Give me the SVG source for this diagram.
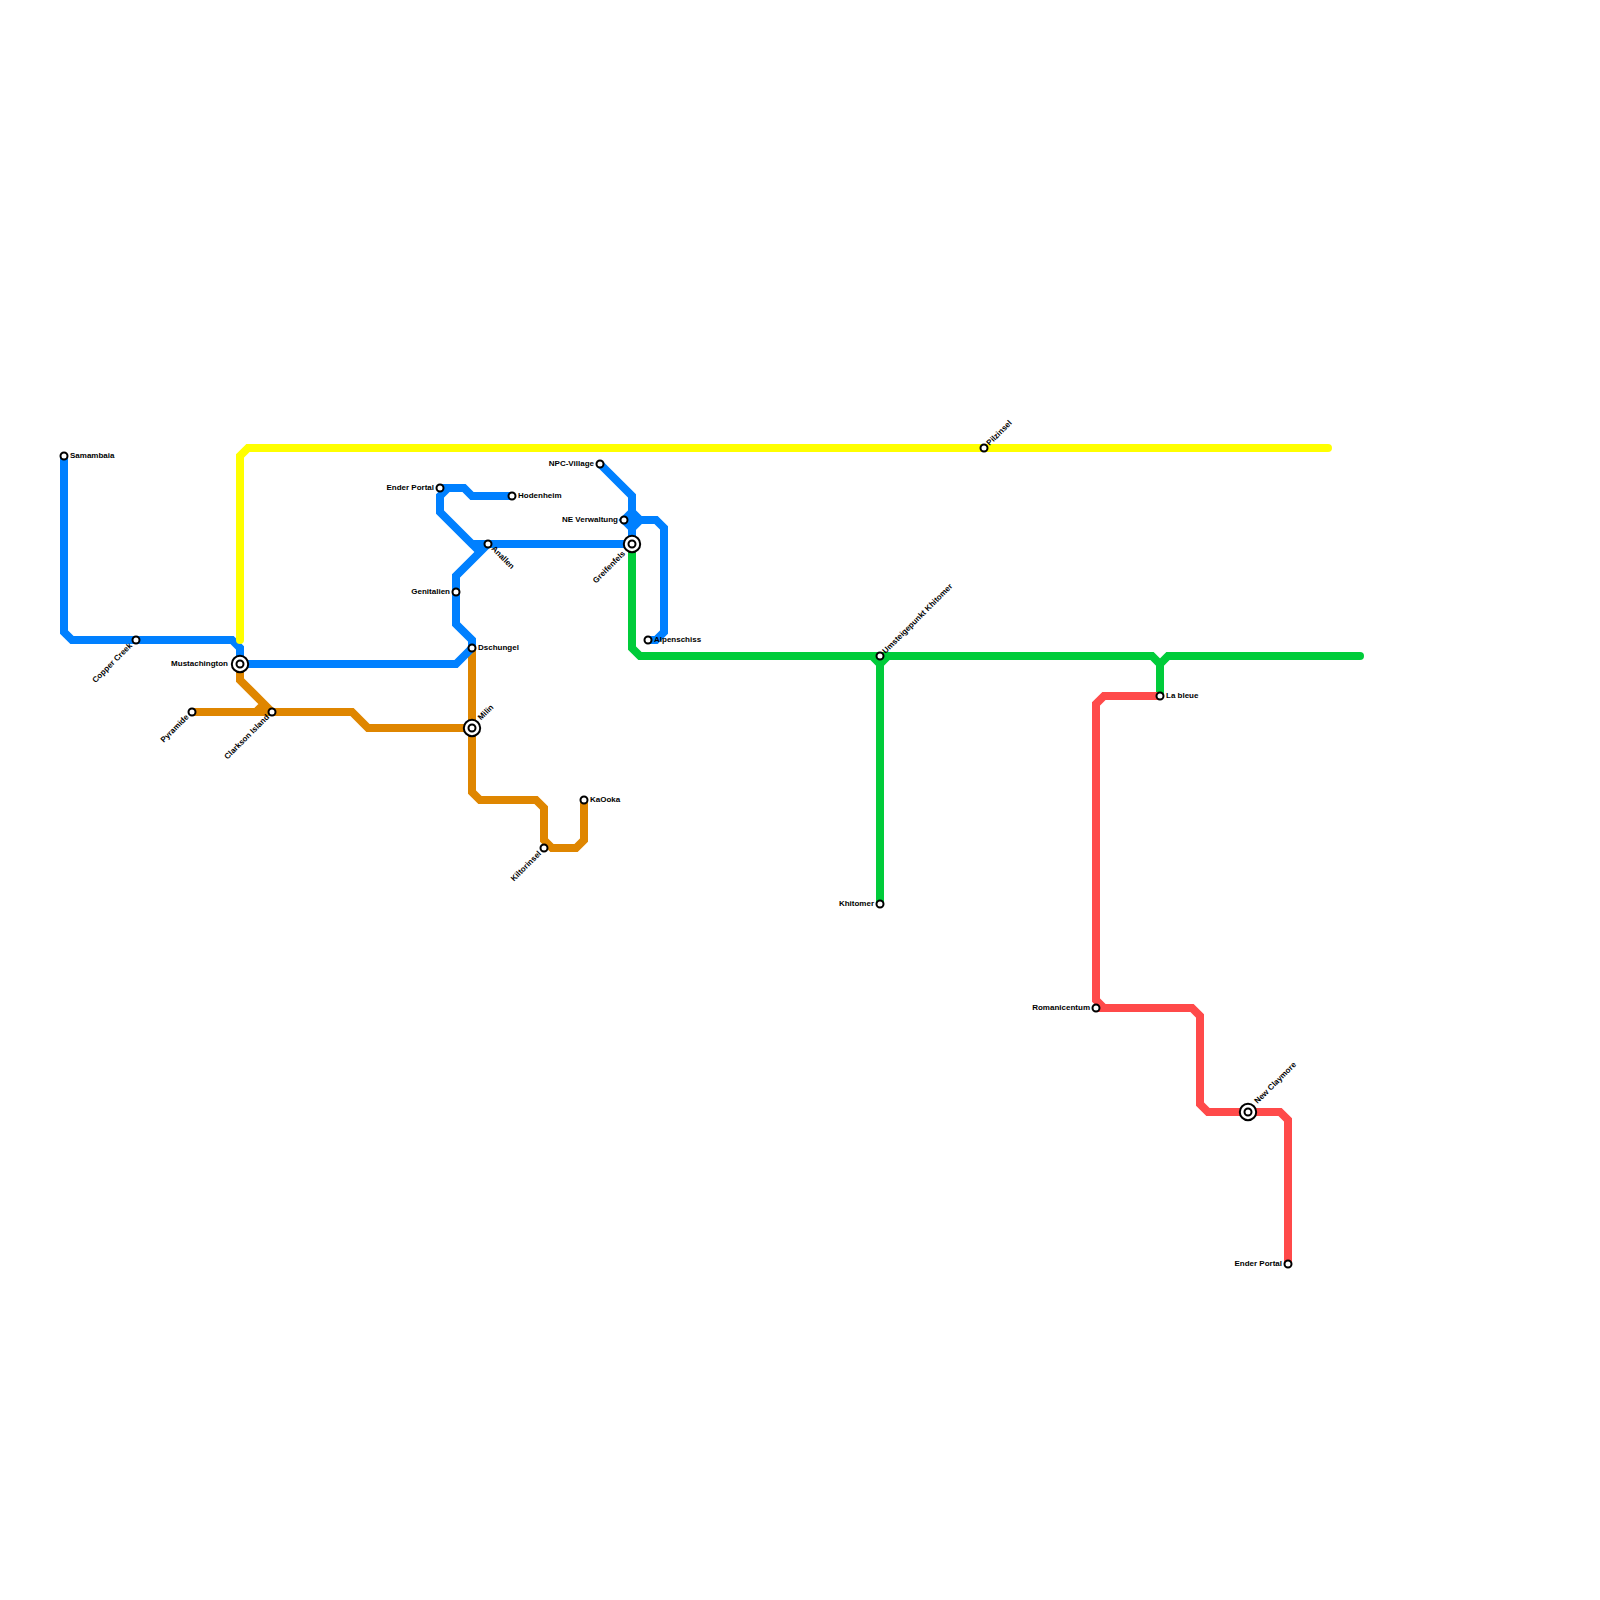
<svg xmlns="http://www.w3.org/2000/svg" width="1600" height="1600" viewBox="0 0 1600 1600">
<style>
.l{fill:none;stroke-width:8;stroke-linejoin:miter;stroke-linecap:butt}
.b{stroke:#0080ff}.o{stroke:#df8600}.g{stroke:#00cc3a}.r{stroke:#ff4a4a}.y{stroke:#ffff00}
.s{fill:#fff;stroke:#000;stroke-width:2}
.i{fill:#fff;stroke:#000;stroke-width:2}
text{font-family:"Liberation Sans",Arial,sans-serif;font-size:8px;font-weight:700;fill:#000}
.e{text-anchor:end}
</style>
<rect width="1600" height="1600" fill="#fff"/>
<g id="connectors">
<path class="l o" d="M192 712H352L368 728H472"/>
<path class="l o" d="M240 664V680L272 712M256 712L264 704"/>
<path class="l o" d="M472 648V792L480 800H536L544 808V840L552 848H576L584 840V800"/>
<path class="l b" d="M64 456V632L72 640H232L240 648V664H456L472 648"/>
<path class="l b" d="M472 648V640L456 624V576L488 544"/>
<path class="l b" d="M512 496H472L464 488H440"/>
<path class="l b" d="M448 488L440 496V512L472 544H632M472 544L480 552"/>
<path class="l b" d="M600 464L632 496V544"/>
<path class="l b" d="M624 520L632 512L640 520L632 528Z"/>
<path class="l b" d="M632 528L640 520H656L664 528V632L656 640H648"/>
<path class="l g" d="M632 544V648L640 656H1152L1160 664L1168 656H1360" />
<path class="l g" d="M872 656L880 664L888 656M880 664V904M1160 664V696"/>
<path class="l r" d="M1160 696H1104L1096 704V1000L1104 1008M1096 1008H1192L1200 1016V1104L1208 1112H1280L1288 1120V1264"/>
<path class="l y" style="stroke-linecap:round" d="M240 640V456L248 448H1328"/>
<path class="l g" style="stroke-linecap:round" d="M1340 656H1360"/>
</g>
<g id="n-samambaia"><circle class="s" cx="64" cy="456" r="3.5"/><text x="70" y="457.500">Samambaia</text></g>
<g id="n-copper-creek"><circle class="s" cx="136" cy="640" r="3.5"/><text class="e" transform="translate(130.500 644) rotate(-45)" y="3">Copper Creek</text></g>
<g id="n-mustachington"><circle class="i" cx="240" cy="664" r="8.200"/><circle class="s" cx="240" cy="664" r="3.500"/><text class="e" x="228" y="665.500">Mustachington</text></g>
<g id="n-pyramide"><circle class="s" cx="192" cy="712" r="3.5"/><text class="e" transform="translate(187 715.500) rotate(-45)" y="3">Pyramide</text></g>
<g id="n-clarkson"><circle class="s" cx="272" cy="712" r="3.5"/><text class="e" transform="translate(267.500 715.500) rotate(-45)" y="3">Clarkson Island</text></g>
<g id="n-milin"><circle class="i" cx="472" cy="728" r="8.200"/><circle class="s" cx="472" cy="728" r="3.500"/><text transform="translate(479 718.500) rotate(-45)" y="3">Milin</text></g>
<g id="n-dschungel"><circle class="s" cx="472" cy="648" r="3.5"/><text x="478" y="649.500">Dschungel</text></g>
<g id="n-genitalien"><circle class="s" cx="456" cy="592" r="3.5"/><text class="e" x="450" y="593.500">Genitalien</text></g>
<g id="n-ender-portal"><circle class="s" cx="440" cy="488" r="3.5"/><text class="e" x="434" y="489.500">Ender Portal</text></g>
<g id="n-hodenheim"><circle class="s" cx="512" cy="496" r="3.5"/><text x="518" y="497.500">Hodenheim</text></g>
<g id="n-anallen"><circle class="s" cx="488" cy="544" r="3.5"/><text transform="translate(493 547) rotate(45)" y="3">Anallen</text></g>
<g id="n-npc-village"><circle class="s" cx="600" cy="464" r="3.5"/><text class="e" x="594" y="465.500">NPC-Village</text></g>
<g id="n-ne-verwaltung"><circle class="s" cx="624" cy="520" r="3.5"/><text class="e" x="618" y="521.500">NE Verwaltung</text></g>
<g id="n-greifenfels"><circle class="i" cx="632" cy="544" r="8.200"/><circle class="s" cx="632" cy="544" r="3.500"/><text class="e" transform="translate(623.500 552) rotate(-45)" y="3">Greifenfels</text></g>
<g id="n-alpenschiss"><circle class="s" cx="648" cy="640" r="3.5"/><text x="654" y="641.500">Alpenschiss</text></g>
<g id="n-kaooka"><circle class="s" cx="584" cy="800" r="3.5"/><text x="590" y="801.500">KaOoka</text></g>
<g id="n-kiltorinsel"><circle class="s" cx="544" cy="848" r="3.5"/><text class="e" transform="translate(539.500 852) rotate(-45)" y="3">Kiltorinsel</text></g>
<g id="n-umsteigepunkt"><circle class="s" cx="880" cy="656" r="3.5"/><text transform="translate(883.500 652) rotate(-45)" y="3">Umsteigepunkt Khitomer</text></g>
<g id="n-khitomer"><circle class="s" cx="880" cy="904" r="3.5"/><text class="e" x="874" y="905.500">Khitomer</text></g>
<g id="n-pilzinsel"><circle class="s" cx="984" cy="448" r="3.5"/><text transform="translate(987.500 444) rotate(-45)" y="3">Pilzinsel</text></g>
<g id="n-la-bleue"><circle class="s" cx="1160" cy="696" r="3.5"/><text x="1166" y="697.500">La bleue</text></g>
<g id="n-romanicentum"><circle class="s" cx="1096" cy="1008" r="3.5"/><text class="e" x="1090" y="1009.500">Romanicentum</text></g>
<g id="n-new-claymore"><circle class="i" cx="1248" cy="1112" r="8.200"/><circle class="s" cx="1248" cy="1112" r="3.500"/><text transform="translate(1255.500 1102) rotate(-45)" y="3">New Claymore</text></g>
<g id="n-ender-portal-2"><circle class="s" cx="1288" cy="1264" r="3.5"/><text class="e" x="1282" y="1265.500">Ender Portal</text></g>
</svg>
